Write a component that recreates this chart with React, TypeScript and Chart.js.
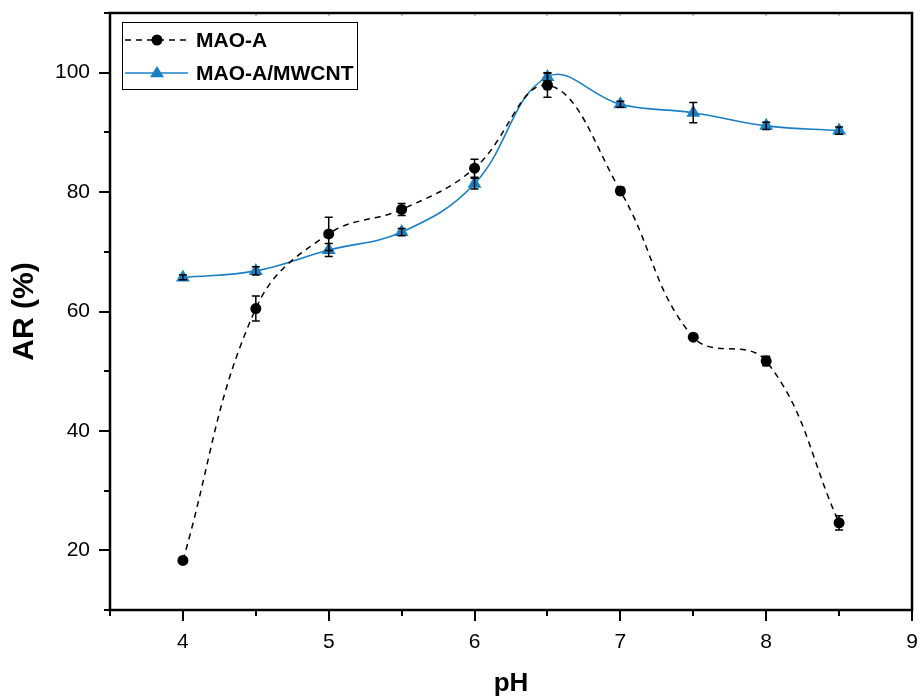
import React, { useEffect, useRef } from 'react';
import { Chart, registerables } from 'chart.js';

Chart.register(...registerables);

// pH values tested
const pH = [4, 4.5, 5, 5.5, 6, 6.5, 7, 7.5, 8, 8.5];
// relative activity (%) of free enzyme and its standard deviation
const maoA = [18.3, 60.5, 73.0, 77.1, 84.0, 97.9, 80.2, 55.7, 51.7, 24.6];
const maoAErr = [0.3, 2.1, 2.8, 1.0, 1.5, 2.0, 0.6, 0.5, 0.8, 1.2];
// relative activity (%) of the immobilised enzyme and its standard deviation
const maoAMwcnt = [65.7, 66.8, 70.3, 73.3, 81.4, 99.3, 94.7, 93.3, 91.1, 90.3];
const maoAMwcntErr = [0.4, 0.7, 1.1, 0.6, 0.9, 0.7, 0.5, 1.7, 0.6, 0.6];

const seriesNames = ['MAO-A', 'MAO-A/MWCNT'];
const xTickValues = [4, 5, 6, 7, 8, 9];
const yTickValues = [20, 40, 60, 80, 100];
const xRange = [3.5, 9];
const yRange = [10, 110];

const BLUE = '#1a80c4';
const FONT = "'Liberation Sans', Arial, sans-serif";

// vertical error bars with caps, drawn over the series
const errorBarPlugin = {
  id: 'errorBars',
  afterDatasetsDraw(chart: any) {
    const { ctx } = chart;
    const yScale = chart.scales.y;
    const xScale = chart.scales.x;
    ctx.save();
    ctx.strokeStyle = '#000';
    ctx.lineWidth = 1.5;
    chart.data.datasets.forEach((ds: any) => {
      const errs: number[] = ds.errors || [];
      ds.data.forEach((p: any, i: number) => {
        const e = errs[i];
        if (!e) return;
        const px = xScale.getPixelForValue(p.x);
        const top = yScale.getPixelForValue(p.y + e);
        const bot = yScale.getPixelForValue(p.y - e);
        ctx.beginPath();
        ctx.moveTo(px, top);
        ctx.lineTo(px, bot);
        ctx.moveTo(px - 4, top);
        ctx.lineTo(px + 4, top);
        ctx.moveTo(px - 4, bot);
        ctx.lineTo(px + 4, bot);
        ctx.stroke();
      });
    });
    ctx.restore();
  },
};

// box frame with major/minor tick marks
const framePlugin = {
  id: 'frame',
  afterDraw(chart: any) {
    const { ctx, chartArea: a } = chart;
    const xs = chart.scales.x;
    const ys = chart.scales.y;
    ctx.save();
    ctx.strokeStyle = '#000';
    ctx.lineWidth = 2;
    const seg = (x1: number, y1: number, x2: number, y2: number) => {
      ctx.beginPath();
      ctx.moveTo(x1, y1);
      ctx.lineTo(x2, y2);
      ctx.stroke();
    };
    for (let v = xs.min; v <= xs.max + 1e-6; v += 0.5) {
      const px = Math.round(xs.getPixelForValue(v));
      const major = Math.abs(v - Math.round(v)) < 1e-6;
      seg(px, a.bottom, px, a.bottom + (major ? 11 : 6));
    }
    for (let v = ys.min; v <= ys.max + 1e-6; v += 10) {
      const py = Math.round(ys.getPixelForValue(v));
      const major = Math.round(v) % 20 === 0;
      seg(a.left, py, a.left - (major ? 11 : 6), py);
    }
    // faint ticks on the top edge
    ctx.strokeStyle = '#888';
    ctx.lineWidth = 1;
    for (let v = 4.5; v <= xs.max - 0.1; v += 0.5) {
      const px = Math.round(xs.getPixelForValue(v));
      seg(px, a.top, px, a.top + 3);
    }
    ctx.strokeStyle = '#000';
    ctx.lineWidth = 2.5;
    ctx.strokeRect(a.left, a.top, a.right - a.left, a.bottom - a.top);
    ctx.restore();
  },
};

// boxed legend in the upper-left corner of the plot
const boxLegendPlugin = {
  id: 'boxLegend',
  afterDraw(chart: any) {
    const { ctx, chartArea: a } = chart;
    const bx = a.left + 12;
    const by = a.top + 9;
    const bw = 235;
    const bh = 67;
    ctx.save();
    ctx.fillStyle = '#fff';
    ctx.fillRect(bx, by, bw, bh);
    ctx.strokeStyle = '#000';
    ctx.lineWidth = 1;
    ctx.strokeRect(bx + 0.5, by + 0.5, bw, bh);
    chart.data.datasets.forEach((ds: any, i: number) => {
      const cy = by + 18 + i * 33;
      ctx.strokeStyle = ds.borderColor;
      ctx.lineWidth = ds.borderWidth;
      ctx.setLineDash(ds.borderDash || []);
      ctx.beginPath();
      ctx.moveTo(bx + 3, cy);
      ctx.lineTo(bx + 66, cy);
      ctx.stroke();
      ctx.setLineDash([]);
      ctx.fillStyle = ds.pointBackgroundColor;
      ctx.beginPath();
      if (ds.pointStyle === 'triangle') {
        const r = 7;
        ctx.moveTo(bx + 35, cy - r);
        ctx.lineTo(bx + 35 + r, cy + r * 0.6);
        ctx.lineTo(bx + 35 - r, cy + r * 0.6);
        ctx.closePath();
      } else {
        ctx.arc(bx + 35, cy, 5.5, 0, Math.PI * 2);
      }
      ctx.fill();
      ctx.fillStyle = '#000';
      ctx.font = `bold 21px ${FONT}`;
      ctx.textAlign = 'left';
      ctx.textBaseline = 'middle';
      ctx.fillText(ds.label, bx + 74, cy + 1);
    });
    ctx.restore();
  },
};

const noEdgePadding = (s: any) => {
  s.paddingLeft = 0;
  s.paddingRight = 0;
  s.paddingTop = 0;
  s.paddingBottom = 0;
};

export default function App() {
  const canvasRef = useRef<HTMLCanvasElement | null>(null);

  useEffect(() => {
    if (!canvasRef.current) return;
    const chart = new Chart(canvasRef.current, {
      type: 'line',
      data: {
        datasets: [
          {
            label: seriesNames[0],
            data: pH.map((x, i) => ({ x, y: maoA[i] })),
            errors: maoAErr,
            borderColor: '#000',
            borderWidth: 1.5,
            borderDash: [6, 5],
            tension: 0.4,
            pointStyle: 'circle',
            pointRadius: 5.5,
            pointBackgroundColor: '#000',
            pointBorderColor: '#000',
            pointBorderWidth: 0,
            fill: false,
          } as any,
          {
            label: seriesNames[1],
            data: pH.map((x, i) => ({ x, y: maoAMwcnt[i] })),
            errors: maoAMwcntErr,
            borderColor: BLUE,
            borderWidth: 1.6,
            tension: 0.4,
            pointStyle: 'triangle',
            pointRadius: 8,
            pointBackgroundColor: BLUE,
            pointBorderColor: BLUE,
            pointBorderWidth: 0,
            fill: false,
          } as any,
        ],
      },
      options: {
        animation: false,
        responsive: true,
        maintainAspectRatio: false,
        layout: { padding: { top: 13, right: 6, left: 0, bottom: 0 } },
        plugins: {
          legend: { display: false },
          tooltip: { enabled: false },
        },
        scales: {
          x: {
            type: 'linear',
            min: xRange[0],
            max: xRange[1],
            afterBuildTicks: (s: any) => {
              s.ticks = xTickValues.map((value) => ({ value }));
            },
            afterFit: (s: any) => {
              s.height = 88;
              noEdgePadding(s);
            },
            grid: { display: true, drawOnChartArea: false, drawTicks: false },
            border: { display: false },
            ticks: {
              padding: 20,
              color: '#000',
              font: { family: FONT, size: 21 },
              maxRotation: 0,
            },
            title: {
              display: true,
              text: 'pH',
              color: '#000',
              font: { family: FONT, size: 26, weight: 'bold', lineHeight: 1 },
              padding: { top: 0, bottom: 1 },
            },
          },
          y: {
            type: 'linear',
            min: yRange[0],
            max: yRange[1],
            afterBuildTicks: (s: any) => {
              s.ticks = yTickValues.map((value) => ({ value }));
            },
            afterFit: (s: any) => {
              s.width = 110;
              noEdgePadding(s);
            },
            grid: { display: true, drawOnChartArea: false, drawTicks: false },
            border: { display: false },
            ticks: {
              padding: 20,
              color: '#000',
              font: { family: FONT, size: 21 },
            },
            title: {
              display: true,
              text: 'AR (%)',
              color: '#000',
              font: { family: FONT, size: 30, weight: 'bold', lineHeight: 1 },
              padding: { top: 10, bottom: 0 },
            },
          },
        },
      },
      plugins: [errorBarPlugin, framePlugin, boxLegendPlugin],
    });
    return () => chart.destroy();
  }, []);

  return (
    <div
      style={{
        position: 'fixed',
        left: 0,
        top: 0,
        width: 920,
        height: 698,
        background: '#fff',
      }}
    >
      <canvas ref={canvasRef} />
    </div>
  );
}
